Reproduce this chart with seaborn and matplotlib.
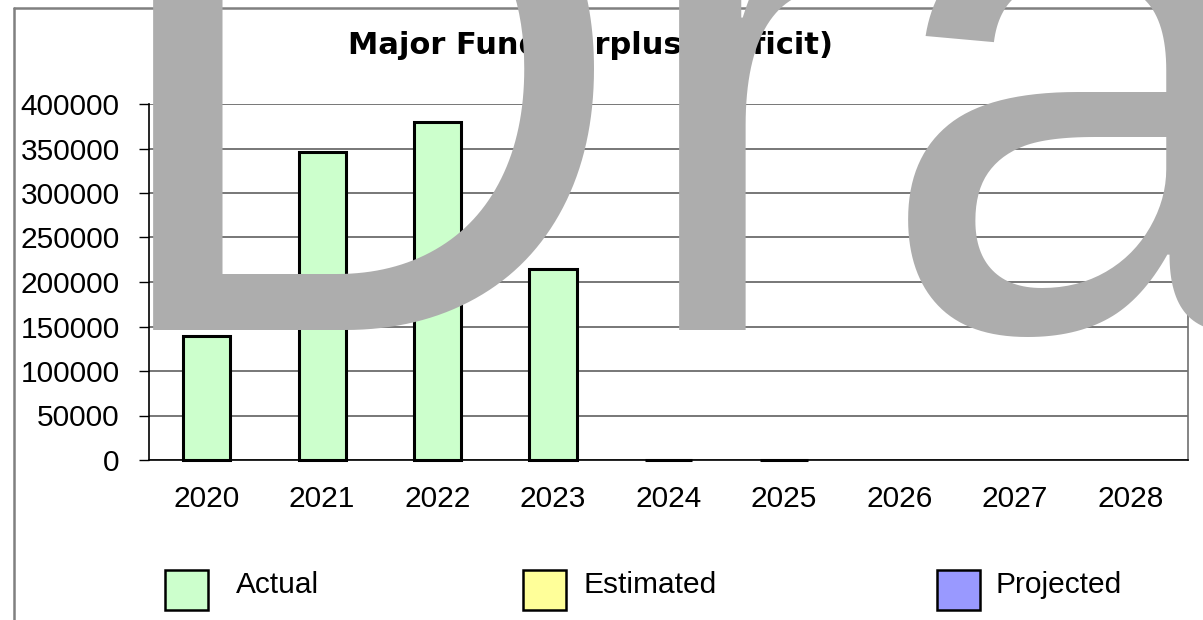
import matplotlib
matplotlib.use("Agg")
import matplotlib.pyplot as plt
from matplotlib.patches import Rectangle
from matplotlib.lines import Line2D
import seaborn as sns
import pandas as pd
import numpy as np

years = ["2020", "2021", "2022", "2023", "2024", "2025", "2026", "2027", "2028"]
values = [139500, 346500, 380000, 214300, 0, 0, np.nan, np.nan, np.nan]
status = ["Actual", "Actual", "Actual", "Actual", "Estimated", "Projected",
          "Projected", "Projected", "Projected"]
legend_labels = ["Actual", "Estimated", "Projected"]
colors = {"Actual": "#CCFFCC", "Estimated": "#FFFF99", "Projected": "#9999FF"}
yticks = [0, 50000, 100000, 150000, 200000, 250000, 300000, 350000, 400000]
title = "Major Fund Surplus (Deficit)"
watermark = "Draft"

sns.set_style("white")
plt.rcParams["font.family"] = ["Liberation Sans", "DejaVu Sans"]
plt.rcParams["text.color"] = "black"
plt.rcParams["xtick.color"] = "black"
plt.rcParams["ytick.color"] = "black"
plt.rcParams["axes.labelcolor"] = "black"

W, H = 1203, 620
fig = plt.figure(figsize=(W / 100, H / 100), dpi=100)
ax = fig.add_axes([149 / W, 1 - 460 / H, (1188 - 149) / W, (460 - 104) / H])

df = pd.DataFrame({"year": years, "value": values, "status": status})
sns.barplot(data=df, x="year", y="value", hue="status", order=years,
            hue_order=legend_labels, palette=colors, dodge=False, width=0.41,
            edgecolor="black", linewidth=2.2, legend=False, ax=ax, zorder=3,
            saturation=1)
for p in ax.patches:
    p.set_clip_on(False)

ax.set_ylim(0, 400000)
ax.set_xlim(-0.5, len(years) - 0.5)
ax.set_yticks(yticks)
ax.set_yticklabels([str(v) for v in yticks])
ax.set_xlabel("")
ax.set_ylabel("")
ax.yaxis.grid(True, color="#606060", linewidth=1.2)
ax.xaxis.grid(False)
ax.set_axisbelow(True)
ax.tick_params(axis="y", length=7, width=1, color="black", direction="out",
               pad=14, labelsize=21.5, left=True)
ax.tick_params(axis="x", length=0, pad=18, labelsize=21.5)
for s in ["left", "bottom"]:
    ax.spines[s].set_color("black")
    ax.spines[s].set_linewidth(1.2)
ax.spines["top"].set_visible(False)
ax.spines["right"].set_color("#707070")
ax.spines["right"].set_linewidth(1.2)

# outer chart frame
fig.add_artist(Line2D([14 / W, 14 / W], [0, 1 - 8 / H], transform=fig.transFigure,
                      color="#808080", linewidth=1.8))
fig.add_artist(Line2D([14 / W, 1], [1 - 8 / H, 1 - 8 / H], transform=fig.transFigure,
                      color="#808080", linewidth=1.8))

fig.text(590 / W, 1 - 45 / H, title, ha="center", va="center",
         fontsize=22, fontweight="bold", family=["DejaVu Sans"])

# legend
box_x = [165, 523, 937]
text_x = [236, 583, 995]
for bx, tx, lab in zip(box_x, text_x, legend_labels):
    fig.add_artist(Rectangle((bx / W, 1 - 610 / H), 43 / W, 40 / H,
                             transform=fig.transFigure, facecolor=colors[lab],
                             edgecolor="black", linewidth=1.8))
    fig.text(tx / W, 1 - 585 / H, lab, ha="left", va="center", fontsize=21.5)

# watermark
fig.text(92 / W, 1 - 330 / H, watermark, ha="left", va="baseline",
         fontsize=536, color="#ADADAD", zorder=10)

fig.savefig("out.png", dpi=100)
